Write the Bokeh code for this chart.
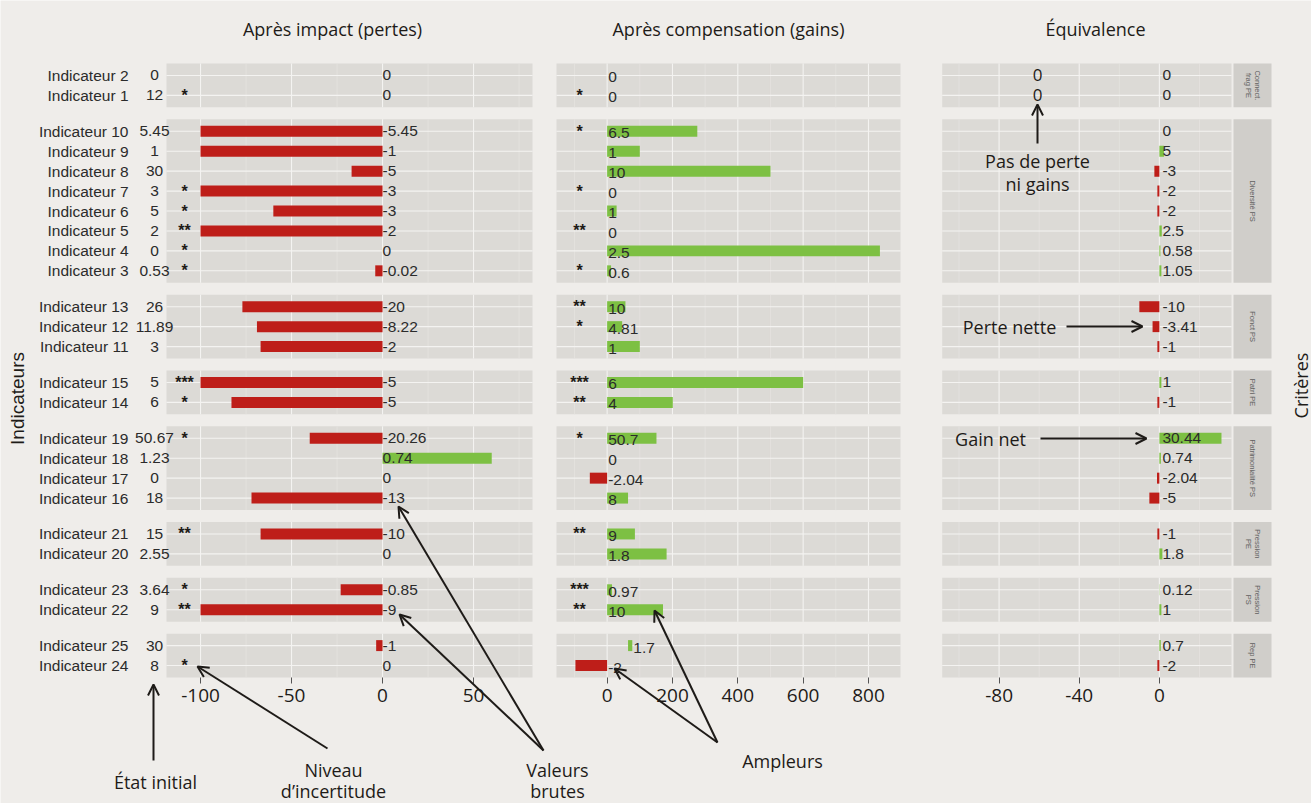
import math
from bokeh.plotting import figure
from bokeh.models import Range1d, LinearAxis, FixedTicker, Label, Arrow, OpenHead
from bokeh.core.properties import value
from bokeh.embed import file_html
from bokeh.resources import INLINE

# ---------------- data (top to bottom) ----------------
indicators = ["Indicateur 2", "Indicateur 1",
              "Indicateur 10", "Indicateur 9", "Indicateur 8", "Indicateur 7",
              "Indicateur 6", "Indicateur 5", "Indicateur 4", "Indicateur 3",
              "Indicateur 13", "Indicateur 12", "Indicateur 11",
              "Indicateur 15", "Indicateur 14",
              "Indicateur 19", "Indicateur 18", "Indicateur 17", "Indicateur 16",
              "Indicateur 21", "Indicateur 20",
              "Indicateur 23", "Indicateur 22",
              "Indicateur 25", "Indicateur 24"]
criteria = ["Connect.\nfrag PE", "Connect.\nfrag PE",
            "Diversité PS", "Diversité PS", "Diversité PS", "Diversité PS",
            "Diversité PS", "Diversité PS", "Diversité PS", "Diversité PS",
            "Fonct PS", "Fonct PS", "Fonct PS",
            "Patri PE", "Patri PE",
            "Patrimonialité PS", "Patrimonialité PS", "Patrimonialité PS", "Patrimonialité PS",
            "Pression\nPE", "Pression\nPE",
            "Pression\nPS", "Pression\nPS",
            "Rep PE", "Rep PE"]
initial_state = ["0", "12", "5.45", "1", "30", "3", "5", "2", "0", "0.53",
                 "26", "11.89", "3", "5", "6", "50.67", "1.23", "0", "18",
                 "15", "2.55", "3.64", "9", "30", "8"]

loss_stars = ["", "*", "", "", "", "*", "*", "**", "*", "*",
              "", "", "", "***", "*", "*", "", "", "",
              "**", "", "*", "**", "", "*"]
loss_raw = ["0", "0", "-5.45", "-1", "-5", "-3", "-3", "-2", "0", "-0.02",
            "-20", "-8.22", "-2", "-5", "-5", "-20.26", "0.74", "0", "-13",
            "-10", "0", "-0.85", "-9", "-1", "0"]
loss_amp = [0, 0, -100, -100, -17, -100, -60, -100, 0, -4,
            -77, -69, -67, -100, -83, -40, 60, 0, -72,
            -67, 0, -23, -100, -3.5, 0]

gain_stars = ["", "*", "*", "", "", "*", "", "**", "", "*",
              "**", "*", "", "***", "**", "*", "", "", "",
              "**", "", "***", "**", "", ""]
gain_raw = ["0", "0", "6.5", "1", "10", "0", "1", "0", "2.5", "0.6",
            "10", "4.81", "1", "6", "4", "50.7", "0", "-2.04", "8",
            "9", "1.8", "0.97", "10", "1.7", "-2"]
gain_base = [0, 0, 0, 0, 0, 0, 0, 0, 0, 0,
             0, 0, 0, 0, 0, 0, 0, 0, 0,
             0, 0, 0, 0, 64, 0]
gain_amp = [0, 0, 276, 100, 500, 0, 29, 0, 835, 12,
            56, 46, 100, 600, 201, 151, 0, -53, 64,
            85, 182, 15, 171, 13, -97]

equiv_raw = ["0", "0", "0", "5", "-3", "-2", "-2", "2.5", "0.58", "1.05",
             "-10", "-3.41", "-1", "1", "-1", "30.44", "0.74", "-2.04", "-5",
             "-1", "1.8", "0.12", "1", "0.7", "-2"]
equiv_amp = [0, 0, 0, 2.3, -2.5, -1, -1, 1.2, 0.5, 1,
             -10, -3.4, -1, 1, -1, 31, 0.74, -1.2, -5,
             -1, 1.5, 0.12, 1, 0.7, -1]

ticks_loss = [-100, -50, 0, 50]
ticks_gain = [0, 200, 400, 600, 800]
ticks_equiv = [-80, -40, 0]
titles = ["Après impact (pertes)", "Après compensation (gains)", "Équivalence"]

# ---------------- style / layout ----------------
BG = "#EFEDEA"
PANEL = "#DCDAD6"
STRIP = "#D0CECA"
GRID_MAJ = "#F4F3F1"
GRID_MIN = "#E6E4E1"
RED = "#BE1E19"
GREEN = "#7DC043"
INK = "#1E1B18"
TXT = "#2B2B2B"
ANN_FONT = "Open Sans"
SMALL_FONT = "Liberation Sans"
SMALL_SIZE = "15.5px"

W, H = 1311, 803
PANEL_T, PANEL_B = 63, 677          # canvas pixels of the facet block
YAXIS_PX = 130                      # right edge of the indicator labels

# panels: name, data lo, data hi, px lo, px hi, major grid, minor grid
PANELS = [("default", -118.7, 82.4, 166, 532, ticks_loss, [-75, -25, 25, 75]),
          ("gain", -155, 898, 556, 900, ticks_gain, [-100, 100, 300, 500, 700]),
          ("eq", -108.4, 36, 941.7, 1231, ticks_equiv, [-100, -60, -20, 20])]
STRIP_PX = (1233, 1271)


def mk_range(lo, hi, pxlo, pxhi):
    s = (pxhi - pxlo) / (hi - lo)
    return Range1d(lo - pxlo / s, lo + (W - pxlo) / s)


def px_to_data(px, lo, hi, pxlo, pxhi):
    s = (pxhi - pxlo) / (hi - lo)
    return lo + (px - pxlo) / s


# rows / facets (tenths of a row)
ROW, PAD, GAP = 10, 6, 6
groups = []
for i, c in enumerate(criteria):
    if not groups or groups[-1][0] != c:
        groups.append((c, [i]))
    else:
        groups[-1][1].append(i)
total = sum((len(ix) - 1) * ROW + 2 * PAD for _, ix in groups) + GAP * (len(groups) - 1)
ypos = [0] * len(indicators)
facets = []
cur = total
for name, ix in groups:
    top = cur
    for k, i in enumerate(ix):
        ypos[i] = top - PAD - k * ROW
    bottom = top - 2 * PAD - (len(ix) - 1) * ROW
    facets.append((name, bottom, top))
    cur = bottom - GAP


def py2y(py):
    return total - (py - PANEL_T) * total / (PANEL_B - PANEL_T)


def px2x(px):
    _, lo, hi, a, b, _, _ = PANELS[0]
    return px_to_data(px, lo, hi, a, b)


ranges = {name: mk_range(lo, hi, a, b) for name, lo, hi, a, b, _, _ in PANELS}

p = figure(width=W, height=H, output_backend="svg", toolbar_location=None,
           x_range=ranges["default"], y_range=Range1d(py2y(H), py2y(0)),
           min_border_left=0, min_border_right=0, min_border_top=0, min_border_bottom=0,
           background_fill_color=BG, border_fill_color=BG, outline_line_color=None)
p.extra_x_ranges = {"gain": ranges["gain"], "eq": ranges["eq"]}
p.xgrid.visible = False
p.ygrid.visible = False

# panel backgrounds + grid
for name, lo, hi, a, b, major, minor in PANELS:
    p.quad(left=lo, right=hi, bottom=[f[1] for f in facets], top=[f[2] for f in facets],
           fill_color=PANEL, line_color=None, x_range_name=name)
    for t_list, col, lw in ((minor, GRID_MIN, 0.7), (major, GRID_MAJ, 1.1)):
        xs0, ys0, ys1 = [], [], []
        for _, fb, ft in facets:
            for t in t_list:
                if lo < t < hi:
                    xs0.append(t); ys0.append(fb); ys1.append(ft)
        p.segment(x0=xs0, x1=xs0, y0=ys0, y1=ys1, line_color=col, line_width=lw,
                  x_range_name=name)
    p.segment(x0=lo, x1=hi, y0=ypos, y1=ypos, line_color=GRID_MAJ, line_width=1.1,
              x_range_name=name)

# strips
_, elo, ehi, ea, eb, _, _ = PANELS[2]
s_lo = px_to_data(STRIP_PX[0], elo, ehi, ea, eb)
s_hi = px_to_data(STRIP_PX[1], elo, ehi, ea, eb)
p.quad(left=s_lo, right=s_hi, bottom=[f[1] for f in facets], top=[f[2] for f in facets],
       fill_color=STRIP, line_color=None, x_range_name="eq")
p.text(x=(s_lo + s_hi) / 2, y=[(f[1] + f[2]) / 2 for f in facets], text=[f[0] for f in facets],
       angle=-math.pi / 2, text_align="center", text_baseline="middle",
       text_font=value(SMALL_FONT), text_font_size="7.5px", text_color="#606060",
       text_line_height=1.0, x_range_name="eq")

BAR_H = 5.5
txt_kw = dict(text_font=value(SMALL_FONT), text_font_size=SMALL_SIZE, text_color=TXT,
              text_baseline="middle")
star_kw = dict(text_font=value(SMALL_FONT), text_font_size="16px", text_color=INK,
               text_font_style="bold", text_baseline="middle", text_align="center")

# panel 1: losses
p.hbar(y=ypos, left=0, right=loss_amp, height=BAR_H, line_color=None,
       fill_color=[RED if v < 0 else GREEN for v in loss_amp])
p.text(x=0, y=ypos, text=loss_raw, text_align="left", **txt_kw)
p.text(x=px2x(154), y=ypos, text=initial_state, text_align="center", **txt_kw)
p.text(x=px2x(184), y=ypos, text=loss_stars, **star_kw)

# panel 2: gains
_, glo, ghi, ga, gb, _, _ = PANELS[1]
p.hbar(y=ypos, left=gain_base, right=[b + v for b, v in zip(gain_base, gain_amp)],
       height=BAR_H, line_color=None,
       fill_color=[RED if v < 0 else GREEN for v in gain_amp], x_range_name="gain")
p.text(x=[b + v if b > 0 else 0 for b, v in zip(gain_base, gain_amp)], y=ypos,
       text=gain_raw, text_align="left", y_offset=2, x_offset=1, x_range_name="gain", **txt_kw)
p.text(x=px_to_data(579, glo, ghi, ga, gb), y=ypos, text=gain_stars,
       x_range_name="gain", **star_kw)

# panel 3: equivalence
p.hbar(y=ypos, left=0, right=equiv_amp, height=BAR_H, line_color=None,
       fill_color=[RED if v < 0 else GREEN for v in equiv_amp], x_range_name="eq")
p.text(x=0, y=ypos, text=equiv_raw, text_align="left", x_offset=3, x_range_name="eq", **txt_kw)


# axes (fixed at the bottom of the facet block)
def style_x(ax, ticks):
    ax.ticker = FixedTicker(ticks=ticks)
    ax.major_label_overrides = {t: str(t) for t in ticks}
    ax.fixed_location = 0
    ax.axis_line_color = None
    ax.major_tick_line_color = "#555555"
    ax.major_tick_out = 6
    ax.major_tick_in = 0
    ax.minor_tick_line_color = None
    ax.major_label_standoff = 5
    ax.major_label_text_font = ANN_FONT
    ax.major_label_text_font_size = "19px"
    ax.major_label_text_color = INK


style_x(p.xaxis[0], ticks_loss)
ax2 = LinearAxis(x_range_name="gain")
p.add_layout(ax2, "below")
style_x(ax2, ticks_gain)
ax3 = LinearAxis(x_range_name="eq")
p.add_layout(ax3, "below")
style_x(ax3, ticks_equiv)

ya = p.yaxis[0]
ya.fixed_location = px2x(YAXIS_PX)
ya.ticker = FixedTicker(ticks=ypos)
ya.major_label_overrides = {y: n for y, n in zip(ypos, indicators)}
ya.axis_line_color = None
ya.major_tick_line_color = None
ya.minor_tick_line_color = None
ya.major_tick_out = 0
ya.major_tick_in = 0
ya.major_label_standoff = 2
ya.major_label_text_font = SMALL_FONT
ya.major_label_text_font_size = SMALL_SIZE
ya.major_label_text_color = TXT


# titles and annotations (canvas pixel placement)
def add_label(text, px, py, size="18px", font=ANN_FONT, angle=0.0):
    p.add_layout(Label(x=px2x(px), y=py2y(py), text=text, text_align="center",
                       text_baseline="middle", text_font=font, text_font_size=size,
                       text_color=INK, angle=angle))


for t, cx in zip(titles, [332, 728, 1095]):
    add_label(t, cx, 28)

add_label("Indicateurs", 17, 398, size="19px", font=SMALL_FONT, angle=math.pi / 2)
add_label("Critères", 1300, 385, angle=math.pi / 2)

for py_row in (ypos[0], ypos[1]):
    p.add_layout(Label(x=px2x(1037), y=py_row, text="0", text_align="center",
                       text_baseline="middle", text_font=ANN_FONT, text_font_size="17px",
                       text_color=INK))

for t, px, py in [("Pas de perte", 1037, 160), ("ni gains", 1037, 183),
                  ("Perte nette", 1009, 326), ("Gain net", 990, 438),
                  ("État initial", 155, 781), ("Niveau", 333, 769),
                  ("d’incertitude", 333, 790), ("Valeurs", 557, 769),
                  ("brutes", 557, 790), ("Ampleurs", 782, 760)]:
    add_label(t, px, py)

for (x0, y0), (x1, y1) in [((1037, 143), (1037, 104)), ((1066, 326), (1142, 326)),
                           ((1040, 438), (1146, 438)), ((153, 760), (153, 684)),
                           ((327, 748), (197, 666)), ((543, 750), (398, 506)),
                           ((543, 750), (399, 614)), ((717, 742), (654, 610)),
                           ((717, 742), (614, 668))]:
    p.add_layout(Arrow(x_start=px2x(x0), y_start=py2y(y0), x_end=px2x(x1), y_end=py2y(y1),
                       line_color=INK, line_width=2,
                       end=OpenHead(size=11, line_width=2, line_color=INK)))

open("out.html", "w").write(file_html(p, INLINE))
